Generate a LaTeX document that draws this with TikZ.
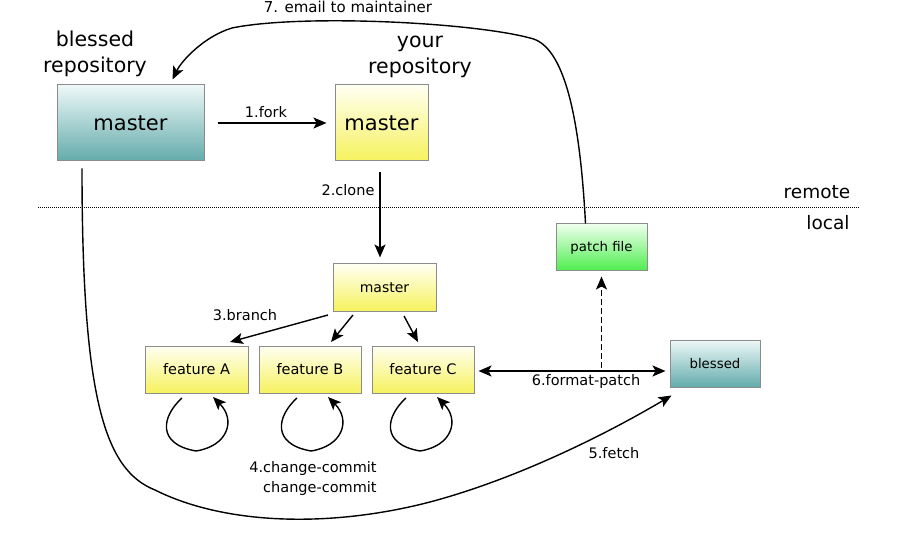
\documentclass[tikz,border=0pt]{standalone}
\usepackage{fontspec}
\setmainfont{DejaVu Sans}
\usetikzlibrary{arrows.meta}
\definecolor{tealtop}{HTML}{EEF8F8}
\definecolor{tealbot}{HTML}{63ABAB}
\definecolor{yeltop}{HTML}{FFFFF2}
\definecolor{yelbot}{HTML}{F6F25E}
\definecolor{grntop}{HTML}{EEFFEE}
\definecolor{grnbot}{HTML}{4CEE4C}
\tikzset{
  fs/.style={font=\fontsize{#1}{#1}\selectfont},
  box/.style={draw=black!45, line width=1pt, inner sep=0pt},
  tealbox/.style={box, top color=tealtop, bottom color=tealbot},
  yelbox/.style={box, top color=yeltop, bottom color=yelbot},
  grnbox/.style={box, top color=grntop, bottom color=grnbot},
  conn/.style={line width=1.4pt, -{Stealth[length=13pt,width=11pt,inset=3pt]}},
  lbl/.style={inner sep=0pt, fs=14.5},
}
\begin{document}
\begin{tikzpicture}[x=1pt,y=-1pt]
\useasboundingbox[fill=white] (0,0) rectangle (900,540);

% remote / local separator
\draw[line width=1pt, dash pattern=on 1pt off 1pt] (38,208) -- (860,208);
\node[inner sep=0pt, fs=18.5] (remote) at (817,192) {remote};
\node[inner sep=0pt, fs=18.5] (local) at (828,223) {local};

% titles
\node[inner sep=0pt, font=\fontsize{20.5}{26}\selectfont, align=center] (blt) at (95,54) {blessed\\repository};
\node[inner sep=0pt, font=\fontsize{20.5}{26}\selectfont, align=center] (yrt) at (420,57) {your\\repository};

% boxes
\node[tealbox, minimum width=147pt, minimum height=76pt, fs=21] (bm) at (130.5,123) {master};
\node[yelbox, minimum width=93pt, minimum height=76pt, fs=21] (ym) at (381.5,123) {master};
\node[yelbox, minimum width=103pt, minimum height=47pt, fs=14] (lm) at (384.5,287.5) {master};
\node[grnbox, minimum width=91pt, minimum height=47pt, fs=13.3] (pf) at (601.5,247.5) {patch file};
\node[yelbox, minimum width=103pt, minimum height=47pt, fs=14.5] (fa) at (196.5,369.5) {feature A};
\node[yelbox, minimum width=102pt, minimum height=47pt, fs=14.5] (fb) at (310,369.5) {feature B};
\node[yelbox, minimum width=102pt, minimum height=47pt, fs=14.5] (fc) at (423,369.5) {feature C};
\node[tealbox, minimum width=90pt, minimum height=47pt, fs=13.3] (bl) at (715,363.5) {blessed};

% 1. fork
\draw[conn] ([xshift=13pt]bm.east) -- ([xshift=-8pt]ym.west);
\node[lbl] (l1) at (266,112) {1.fork};

% 2. clone
\draw[conn] ([xshift=-1.5pt,yshift=-11pt]ym.south) -- ([xshift=-4.5pt,yshift=6pt]lm.north);
\node[lbl] (l2) at (348,190) {2.clone};

% 3. branch
\draw[conn] (328,315) -- (230,342);
\draw[conn] (353,315) -- (331,342);
\draw[conn] (404,316) -- (418,342);
\node[lbl] (l3) at (245,315) {3.branch};

% 4. change-commit loops
\draw[conn] (182,398) .. controls (162,416) and (156,444) .. (196,451) .. controls (228,446) and (236,420) .. (213,397);
\draw[conn] (297,398) .. controls (277,416) and (271,444) .. (311,451) .. controls (343,446) and (351,420) .. (328,397);
\draw[conn] (406,398) .. controls (386,416) and (380,444) .. (420,451) .. controls (452,446) and (460,420) .. (437,397);
\node[lbl, font=\fontsize{14.5}{20}\selectfont, align=right] (l4) at (313,478) {4.change-commit\\change-commit};

% 5. fetch
\coordinate (fs) at ([xshift=-48.5pt,yshift=-7pt]bm.south);
\draw[conn] (fs) .. controls (82,400) and (105,470) .. (155,490)
  .. controls (225,525) and (330,528) .. (430,502)
  .. controls (520,478) and (610,432) .. ([xshift=2pt,yshift=-8pt]bl.south west);
\node[lbl] (l5) at (614,453) {5.fetch};

% 6. format-patch
\coordinate (fpl) at ([xshift=4pt,yshift=-1.5pt]fc.east);
\coordinate (fpr) at (bl.west |- fpl);
\draw[line width=1.4pt, {Stealth[length=13pt,width=11pt,inset=3pt]}-{Stealth[length=13pt,width=11pt,inset=3pt]}] (fpl) -- ([xshift=-4pt]fpr);
\node[lbl] (l6) at (586,381) {6.format-patch};
\coordinate (fpm) at (pf.south |- fpl);
\draw[conn, dash pattern=on 6pt off 3pt] ([yshift=3pt]fpm) -- ([yshift=-5pt]pf.south);

% 7. email
\draw[conn] ([xshift=-16pt]pf.north) .. controls (580,120) and (565,45) .. (530,38)
  .. controls (470,22) and (300,14) .. (232,28)
  .. controls (205,36) and (182,60) .. ([xshift=42pt,yshift=5pt]bm.north);
\node[lbl, fs=15] (l7) at (348,7) {7. email to maintainer};
\end{tikzpicture}
\end{document}
